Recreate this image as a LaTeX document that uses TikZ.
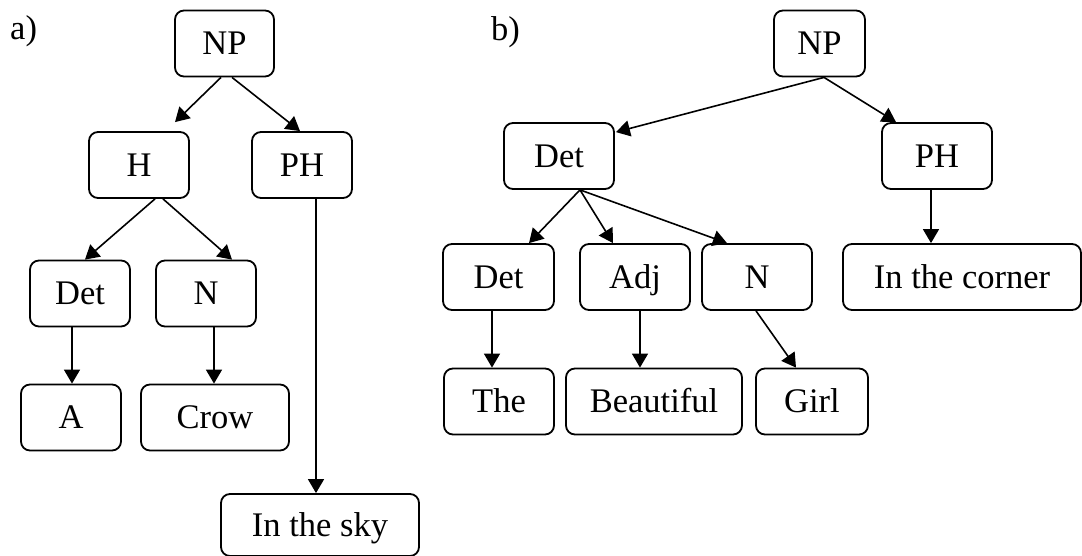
\documentclass[tikz,border=0pt]{standalone}
\usepackage{fontspec}
\setmainfont{Liberation Serif}
\usetikzlibrary{arrows.meta}
\begin{document}
\begin{tikzpicture}[x=1pt,y=-1pt,
  box/.style={draw, line width=1.8pt, rounded corners=9pt, inner sep=0pt,
    minimum height=66pt, text height=22.5pt, text depth=0pt,
    font=\fontsize{34.5}{40}\selectfont},
  arr/.style={line width=1.6pt, -{Triangle[length=14pt,width=16pt]}},
  lbl/.style={anchor=base west, inner sep=0pt, font=\fontsize{34.5}{40}\selectfont}]
\useasboundingbox (0,0) rectangle (1082,556);

% ---- tree a) ----
\node[lbl] (la) at (10,40) {a)};
\node[box, minimum width=99pt]  (npA)   at (224.5,43.5) {NP};
\node[box, minimum width=100pt] (hA)    at (139,165)    {H};
\node[box, minimum width=100pt] (phA)   at (302,165)    {PH};
\node[box, minimum width=100pt] (detA)  at (80,293.5)   {Det};
\node[box, minimum width=100pt] (nA)    at (206,293.5)  {N};
\node[box, minimum width=100pt] (aA)    at (71,417.5)   {A};
\node[box, minimum width=148pt] (crowA) at (215,417.5)  {Crow};
\node[box, minimum width=198pt, minimum height=62pt] (skyA) at (320,525) {In the sky};

\draw[arr] ([xshift=-3.5pt]npA.south) -- ([xshift=36pt,yshift=9pt]hA.north);
\draw[arr] ([xshift=7.5pt]npA.south)  -- ([xshift=-2pt]phA.north);
\draw[arr] ([xshift=16pt]hA.south)    -- ([xshift=5pt]detA.north);
\draw[arr] ([xshift=24pt]hA.south)    -- ([xshift=26pt]nA.north);
\draw[arr] ([xshift=-8pt]detA.south)  -- ([xshift=1pt]aA.north);
\draw[arr] ([xshift=8pt]nA.south)     -- ([xshift=-1pt]crowA.north);
\draw[arr] ([xshift=14pt]phA.south)   -- ([xshift=-4pt]skyA.north);

% ---- tree b) ----
\node[lbl] (lb) at (491,41) {b)};
\node[box, minimum width=91pt]  (npB)     at (819.5,43.5) {NP};
\node[box, minimum width=110pt] (detB)    at (559,156)    {Det};
\node[box, minimum width=110pt] (phB)     at (937,156)    {PH};
\node[box, minimum width=111pt] (det2B)   at (498.5,277)  {Det};
\node[box, minimum width=110pt] (adjB)    at (635,277)    {Adj};
\node[box, minimum width=110pt] (nB)      at (757,277)    {N};
\node[box, minimum width=238pt] (cornerB) at (962,277)    {In the corner};
\node[box, minimum width=110pt] (theB)    at (499,401.5)  {The};
\node[box, minimum width=176pt] (beautB)  at (654,401.5)  {Beautiful};
\node[box, minimum width=112pt] (girlB)   at (812,401.5)  {Girl};

\draw[arr] ([xshift=4.5pt]npB.south)   -- ([xshift=1pt,yshift=-10pt]detB.north east);
\draw[arr] ([xshift=4.5pt]npB.south)   -- ([xshift=-41pt]phB.north);
\draw[arr] ([xshift=21pt]detB.south)   -- ([xshift=30.5pt]det2B.north);
\draw[arr] ([xshift=21pt]detB.south)   -- ([xshift=-22pt]adjB.north);
\draw[arr] ([xshift=21pt]detB.south)   -- ([xshift=-30pt]nB.north);
\draw[arr] ([xshift=-6.5pt]det2B.south) -- ([xshift=-7pt]theB.north);
\draw[arr] ([xshift=5pt]adjB.south)    -- ([xshift=-14pt]beautB.north);
\draw[arr] ([xshift=-1pt]nB.south)     -- ([xshift=-16pt]girlB.north);
\draw[arr] ([xshift=-6pt]phB.south)    -- ([xshift=-31pt]cornerB.north);
\end{tikzpicture}
\end{document}
